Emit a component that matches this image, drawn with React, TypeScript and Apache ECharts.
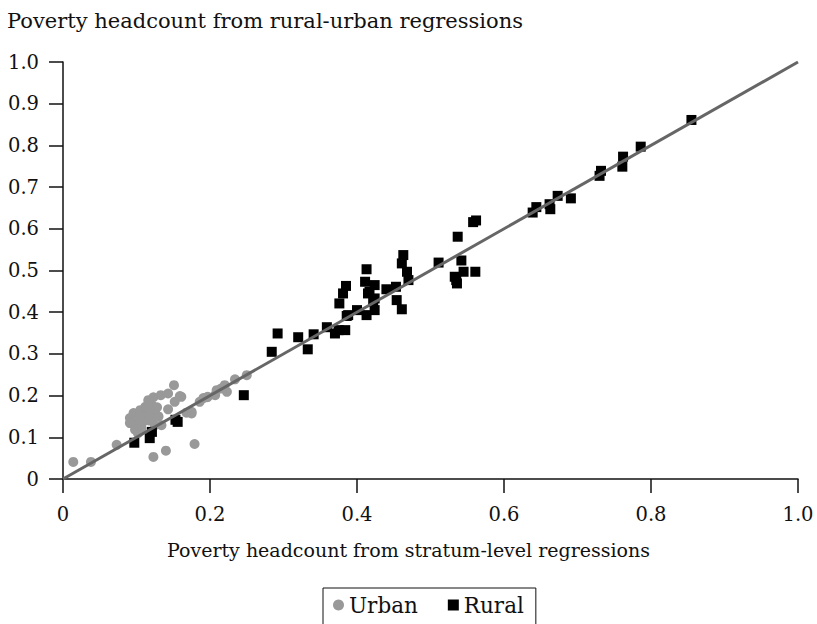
import React, { useEffect, useRef } from "react";
import * as echarts from "echarts";

const chartTitle = "Poverty headcount from rural-urban regressions";
const xAxisTitle = "Poverty headcount from stratum-level regressions";
const seriesNames = ["Urban", "Rural"];

const urbanPoints: [number, number][] = [
  [0.014, 0.041], [0.038, 0.041], [0.073, 0.082], [0.123, 0.053], [0.140, 0.068],
  [0.179, 0.084], [0.151, 0.225], [0.123, 0.196], [0.133, 0.201], [0.143, 0.205],
  [0.161, 0.197], [0.152, 0.185], [0.143, 0.167], [0.168, 0.159], [0.175, 0.157],
  [0.186, 0.185], [0.196, 0.196], [0.207, 0.201], [0.215, 0.217], [0.220, 0.225],
  [0.223, 0.209], [0.234, 0.239], [0.250, 0.249], [0.091, 0.146], [0.096, 0.158],
  [0.105, 0.165], [0.112, 0.173], [0.121, 0.177], [0.116, 0.158], [0.125, 0.161],
  [0.100, 0.134], [0.109, 0.137], [0.121, 0.146], [0.098, 0.118], [0.107, 0.122],
  [0.125, 0.129], [0.134, 0.129], [0.091, 0.134], [0.102, 0.110], [0.116, 0.189],
  [0.130, 0.150], [0.175, 0.161], [0.191, 0.194], [0.209, 0.213], [0.197, 0.197],
  [0.159, 0.199], [0.110, 0.150], [0.118, 0.140], [0.104, 0.145], [0.128, 0.172],
];

const ruralPoints: [number, number][] = [
  [0.855, 0.861], [0.786, 0.797], [0.762, 0.773], [0.761, 0.749], [0.732, 0.739],
  [0.730, 0.727], [0.691, 0.673], [0.673, 0.679], [0.662, 0.659], [0.663, 0.647],
  [0.644, 0.652], [0.639, 0.639], [0.537, 0.581], [0.463, 0.537], [0.461, 0.517],
  [0.511, 0.519], [0.542, 0.524], [0.545, 0.497], [0.561, 0.497], [0.535, 0.477],
  [0.536, 0.469], [0.468, 0.497], [0.470, 0.477], [0.413, 0.503], [0.411, 0.473],
  [0.424, 0.465], [0.385, 0.463], [0.381, 0.445], [0.376, 0.421], [0.415, 0.445],
  [0.424, 0.433], [0.440, 0.455], [0.453, 0.461], [0.454, 0.429], [0.461, 0.407],
  [0.424, 0.405], [0.413, 0.393], [0.400, 0.405], [0.388, 0.393], [0.375, 0.357],
  [0.384, 0.357], [0.370, 0.349], [0.359, 0.364], [0.341, 0.347], [0.320, 0.340],
  [0.333, 0.311], [0.292, 0.349], [0.284, 0.305], [0.246, 0.201], [0.156, 0.137],
  [0.153, 0.142], [0.097, 0.087], [0.118, 0.098], [0.121, 0.113], [0.417, 0.449],
  [0.422, 0.425], [0.386, 0.391], [0.533, 0.485], [0.562, 0.620], [0.558, 0.616],
];

const fitLine: [number, number][] = [[0, 0], [1, 1]];

const FONT = "'DejaVu Serif', 'Liberation Serif', serif";
const fmt = (v: number) => (v === 0 ? "0" : v.toFixed(1));

export default function App() {
  const ref = useRef<HTMLDivElement>(null);
  useEffect(() => {
    if (!ref.current) return;
    const chart = echarts.init(ref.current, null, { renderer: "svg" });
    chart.setOption({
      animation: false,
      backgroundColor: "#fff",
      textStyle: { fontFamily: FONT, color: "#111" },
      title: {
        text: chartTitle,
        left: 7,
        top: 10,
        padding: 0,
        textStyle: { fontFamily: FONT, fontSize: 21, fontWeight: "normal", color: "#111" },
      },
      grid: { left: 63, right: 19, top: 62, bottom: 145 },
      legend: {
        data: seriesNames,
        left: 323,
        top: 588,
        itemWidth: 11,
        itemHeight: 11,
        itemGap: 30,
        borderColor: "#111",
        borderWidth: 1,
        borderRadius: 0,
        padding: [6, 12, 14, 10],
        textStyle: { fontFamily: FONT, fontSize: 21.5, color: "#111" },
      },
      graphic: [
        {
          type: "text",
          left: "center",
          top: 540,
          style: { text: xAxisTitle, fontFamily: FONT, fontSize: 19, fill: "#111" },
        },
      ],
      xAxis: {
        type: "value",
        min: 0,
        max: 1,
        interval: 0.2,
        splitLine: { show: false },
        axisLine: { lineStyle: { color: "#111", width: 1.5 } },
        axisTick: { length: 14, lineStyle: { color: "#111", width: 1.5 } },
        axisLabel: { margin: 25, fontFamily: FONT, fontSize: 19.5, color: "#111", formatter: fmt },
      },
      yAxis: {
        type: "value",
        min: 0,
        max: 1,
        interval: 0.1,
        splitLine: { show: false },
        axisLine: { show: true, lineStyle: { color: "#111", width: 1.5 } },
        axisTick: { show: true, length: 14, lineStyle: { color: "#111", width: 1.5 } },
        axisLabel: { margin: 24, fontFamily: FONT, fontSize: 19.5, color: "#111", formatter: fmt },
      },
      series: [
        {
          name: seriesNames[0],
          type: "scatter",
          symbol: "circle",
          symbolSize: 10,
          itemStyle: { color: "#999", opacity: 1 },
          data: urbanPoints,
          z: 2,
        },
        {
          name: seriesNames[1],
          type: "scatter",
          symbol: "rect",
          symbolSize: 10,
          itemStyle: { color: "#000", opacity: 1 },
          data: ruralPoints,
          z: 3,
        },
        {
          name: "fit",
          type: "line",
          data: fitLine,
          symbol: "none",
          lineStyle: { color: "#666", width: 3 },
          z: 4,
          silent: true,
        },
      ],
    });
    return () => chart.dispose();
  }, []);
  return <div ref={ref} style={{ width: 817, height: 624, position: "absolute", left: 0, top: 0 }} />;
}
